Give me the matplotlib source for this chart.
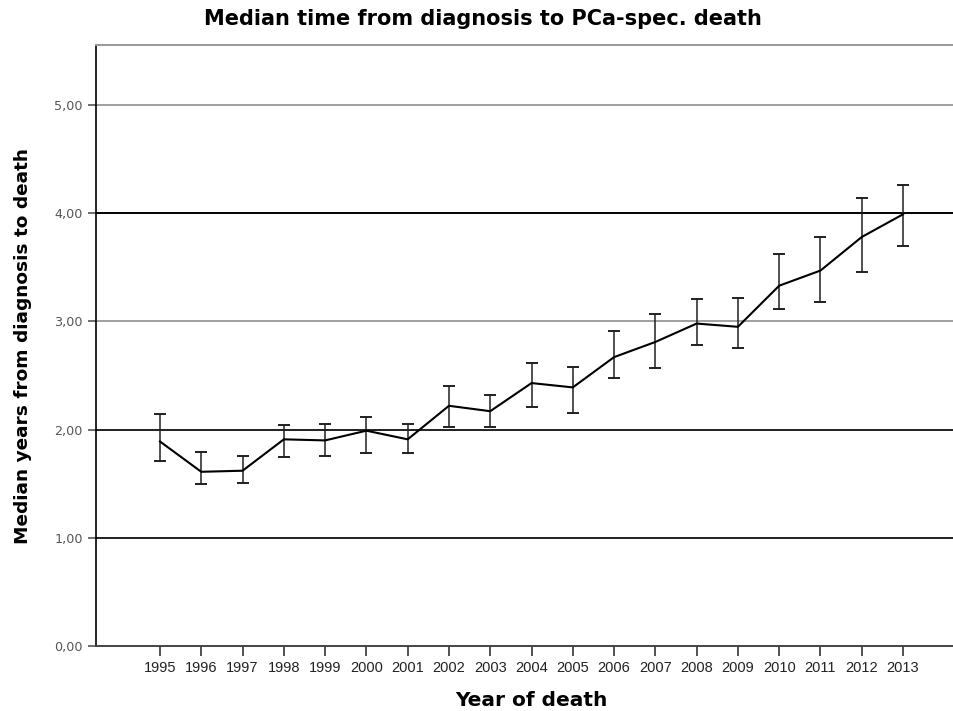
import matplotlib
matplotlib.use("Agg")
import matplotlib.pyplot as plt

# data
years = ['1995', '1996', '1997', '1998', '1999', '2000', '2001', '2002', '2003', '2004',
         '2005', '2006', '2007', '2008', '2009', '2010', '2011', '2012', '2013']
median = [1.89, 1.61, 1.62, 1.91, 1.90, 1.99, 1.91, 2.22, 2.17, 2.43,
          2.39, 2.67, 2.81, 2.98, 2.95, 3.33, 3.47, 3.78, 3.99]
upper = [2.14, 1.79, 1.76, 2.04, 2.05, 2.12, 2.05, 2.40, 2.32, 2.62,
         2.58, 2.91, 3.07, 3.21, 3.22, 3.62, 3.78, 4.14, 4.26]
lower = [1.71, 1.50, 1.51, 1.75, 1.76, 1.78, 1.78, 2.02, 2.02, 2.21,
         2.15, 2.48, 2.57, 2.78, 2.75, 3.11, 3.18, 3.46, 3.70]
yticks = [0, 1, 2, 3, 4, 5]
ytick_labels = ['0,00', '1,00', '2,00', '3,00', '4,00', '5,00']

plt.rcParams['font.family'] = ['DejaVu Sans']

fig = plt.figure(figsize=(9.54, 7.11), dpi=100)
ax = fig.add_axes([96 / 954, 65 / 711, 1 - 96 / 954, (646 - 45) / 711])

x = list(range(len(years)))
err_lo = [m - l for m, l in zip(median, lower)]
err_hi = [u - m for m, u in zip(median, upper)]

# reference lines: SPSS draws some darker than others
line_colors = {1: '#202020', 2: '#202020', 3: '#a0a0a0', 4: '#000000', 5: '#a0a0a0'}
for v, c in line_colors.items():
    ax.axhline(v, color=c, lw=1.4, zorder=1)

ax.plot(x, median, color='black', lw=1.5, zorder=3)
ax.errorbar(x, median, yerr=[err_lo, err_hi], fmt='none', ecolor='#202020',
            elinewidth=1.1, capsize=4, capthick=1.4, zorder=2)

ax.set_xlim(-64 / 41.28, (954 - 160) / 41.28)
ax.set_ylim(0, (646 - 45) / 108.2)
ax.set_xticks(x)
ax.set_xticklabels(years, fontsize=10.5, color='#222222', family='Liberation Sans')
ax.set_yticks(yticks)
ax.set_yticklabels(ytick_labels, fontsize=9.2, color='#555555')
ax.tick_params(axis='x', direction='out', length=7.5, width=1.2, color='#333333', pad=3.5)
ax.tick_params(axis='y', direction='out', length=6, width=1.2, color='#555555', pad=3.5)

ax.spines['right'].set_visible(False)
ax.spines['top'].set_color('#999999')
ax.spines['top'].set_linewidth(1.4)
ax.spines['left'].set_color('black')
ax.spines['left'].set_linewidth(1.2)
ax.spines['bottom'].set_color('#444444')
ax.spines['bottom'].set_linewidth(1.4)

fig.text(483 / 954, 1 - 19 / 711, 'Median time from diagnosis to PCa-spec. death',
         ha='center', va='center', fontsize=15, fontweight='bold')
fig.text(531 / 954, 1 - 700 / 711, 'Year of death', ha='center', va='center',
         fontsize=14.5, fontweight='bold')
fig.text(23 / 954, 1 - 346 / 711, 'Median years from diagnosis to death', ha='center',
         va='center', rotation=90, fontsize=13.3, fontweight='bold')

fig.savefig('out.png', dpi=100)
